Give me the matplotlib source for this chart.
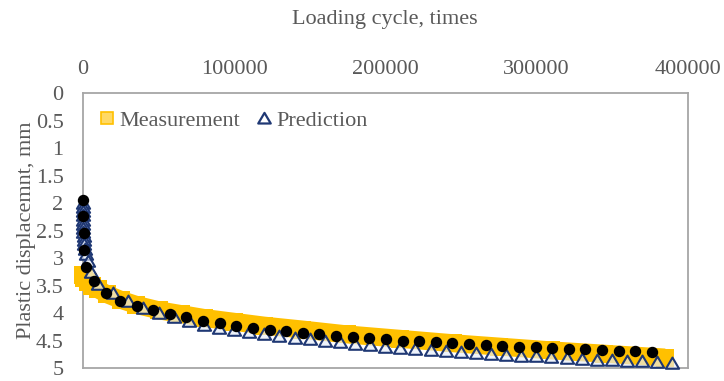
import matplotlib.pyplot as plt
from matplotlib.lines import Line2D
from matplotlib.path import Path
from matplotlib.ticker import FuncFormatter

# measured plastic displacement (band centre), mm
meas_cycles = [0, 1000, 3000, 6000, 10000, 16000, 25000, 35000, 50000, 65000, 80000,
               100000, 120000, 145000, 175000, 210000, 245000, 275000, 310000, 345000, 385000]
meas_disp = [3.30, 3.36, 3.43, 3.50, 3.57, 3.66, 3.76, 3.85, 3.95, 4.02, 4.09,
             4.16, 4.23, 4.30, 4.39, 4.47, 4.55, 4.61, 4.68, 4.74, 4.81]

# predicted displacement
pred_cycles = [1, 5, 10, 20, 50, 100, 200, 300, 500, 700, 1000, 1500, 2000, 3000, 5000,
               10000, 20000, 30000, 40000, 50000, 60000, 70000, 80000, 90000, 100000,
               110000, 120000, 130000, 140000, 150000, 160000, 170000, 180000, 190000, 200000,
               210000, 220000, 230000, 240000, 250000, 260000, 270000, 280000, 290000, 300000,
               310000, 320000, 330000, 340000, 350000, 360000, 370000, 380000, 390000]
pred_disp = [2.00, 2.08, 2.15, 2.22, 2.30, 2.38, 2.45, 2.52, 2.60, 2.67, 2.75, 2.83, 2.92, 3.05, 3.26,
             3.47, 3.64, 3.78, 3.91, 4.00, 4.08, 4.14, 4.21, 4.27, 4.31,
             4.35, 4.39, 4.42, 4.45, 4.48, 4.51, 4.53, 4.56, 4.59, 4.61,
             4.63, 4.65, 4.67, 4.69, 4.71, 4.73, 4.75, 4.76, 4.78, 4.79,
             4.80, 4.82, 4.83, 4.85, 4.86, 4.87, 4.88, 4.89, 4.90]

# second model (black dots, not in legend)
model_cycles = [1, 100, 500, 1000, 2000, 7000, 15000, 24500, 35500, 46500, 57500, 68500,
                79500, 90500, 101500, 112500, 123500, 134500, 145500, 156500, 167500, 178500,
                189500, 200500, 211500, 222500, 233500, 244500, 255500, 266500, 277500, 288500,
                299500, 310500, 321500, 332500, 343500, 354500, 365500, 376500]
model_disp = [1.95, 2.24, 2.55, 2.86, 3.16, 3.41, 3.63, 3.78, 3.88, 3.95, 4.02, 4.08,
              4.15, 4.19, 4.23, 4.27, 4.30, 4.33, 4.36, 4.38, 4.41, 4.43,
              4.46, 4.48, 4.50, 4.51, 4.53, 4.55, 4.56, 4.58, 4.60, 4.61,
              4.62, 4.64, 4.65, 4.66, 4.67, 4.69, 4.69, 4.70]

x_ticks = [0, 100000, 200000, 300000, 400000]
y_ticks = [0, 0.5, 1, 1.5, 2, 2.5, 3, 3.5, 4, 4.5, 5]

gold = '#ffc000'
navy = '#1f3874'
grey_txt = '#595959'
# slightly flat triangle marker, closed so it gets filled
tri = Path([(-1, -0.8), (1, -0.8), (0, 0.9), (-1, -0.8)], closed=True)

plt.rcParams['font.family'] = ['Liberation Serif', 'DejaVu Serif']

fig = plt.figure(figsize=(7.24, 3.81), dpi=100)
ax = fig.add_axes([0.1146, 0.0341, 0.835, 0.7218])

ax.plot(meas_cycles, meas_disp, color=gold, lw=13, solid_capstyle='butt',
        solid_joinstyle='round', marker='s', ms=13, mew=0, clip_on=False, zorder=2)
ax.plot(pred_cycles, pred_disp, ls='none', marker=tri, ms=9.5, mew=1.5,
        mec=navy, mfc=(0.9, 0.93, 0.98, 0.65), clip_on=False, zorder=3)
ax.plot(model_cycles, model_disp, ls='none', marker='o', ms=7.2, color='black',
        clip_on=False, zorder=4)

ax.set_xlim(0, 400000)
ax.set_ylim(5, 0)
ax.set_xticks(x_ticks)
ax.set_yticks(y_ticks)
ax.yaxis.set_major_formatter(FuncFormatter(lambda v, p: f'{v:g}'))
ax.xaxis.tick_top()
ax.xaxis.set_label_position('top')
ax.tick_params(axis='both', length=0, labelsize=16, labelcolor=grey_txt)
ax.tick_params(axis='x', pad=10)
ax.tick_params(axis='y', pad=14)
for s in ax.spines.values():
    s.set_color('#a6a6a6')
    s.set_linewidth(1.3)
    s.set_zorder(1)

ax.set_xlabel('Loading cycle, times', fontsize=16, color=grey_txt, labelpad=26)
ax.set_ylabel('Plastic displacemnt, mm', fontsize=16, color=grey_txt, labelpad=0)

handles = [
    Line2D([], [], ls='none', marker='s', ms=9, mfc='#ffd966', mec=gold, mew=1.2),
    Line2D([], [], ls='none', marker=tri, ms=9, mfc='white', mec=navy, mew=1.6),
]
ax.legend(handles, ['Measurement', 'Prediction'], loc='center left', bbox_to_anchor=(0.025, 0.9),
          ncol=2, frameon=False, fontsize=16, labelcolor=grey_txt, handlelength=0.8,
          handletextpad=0.15, columnspacing=0.7, borderaxespad=0, borderpad=0)

plt.savefig('out.png', dpi=100)
